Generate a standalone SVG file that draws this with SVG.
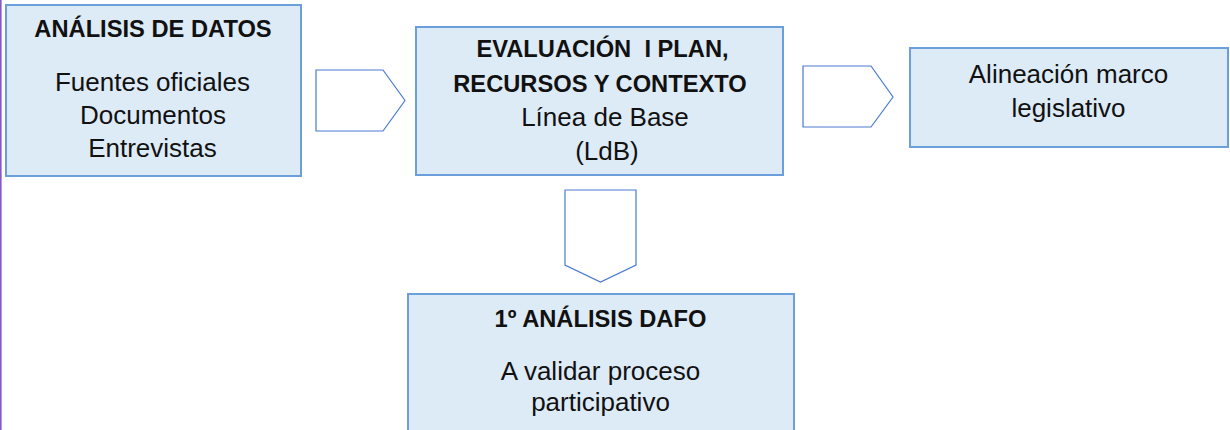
<svg xmlns="http://www.w3.org/2000/svg" width="1230" height="430" viewBox="0 0 1230 430">
<style>
.box{fill:#DDEBF7;stroke:#6A9FDB;stroke-width:2}
.arr{fill:#FFFFFF;stroke:#4A7BD0;stroke-width:1.2;stroke-linejoin:miter}
text{font-family:"Liberation Sans",Arial,sans-serif;fill:#111111;text-anchor:middle}
.b{font-weight:bold;font-size:23.7px}
.r{font-size:26px}
</style>
<rect x="0" y="0" width="1.6" height="430" fill="#8A55C8"/>
<g id="connectors">
<polygon class="arr" points="316,70 383,70 405,100.5 383,131 316,131"/>
<polygon class="arr" points="803,66 871,66 893,97 871,127 803,127"/>
<polygon class="arr" points="565,190 636,190 636,265 600.5,282 565,265"/>
</g>
<g id="node-analisis">
<rect class="box" x="6" y="5" width="295" height="171"/>
<text class="b" x="153" y="36.5">ANÁLISIS DE DATOS</text>
<text class="r" x="152.5" y="90.5">Fuentes oficiales</text>
<text class="r" x="153" y="123.5">Documentos</text>
<text class="r" x="152.5" y="156.5">Entrevistas</text>
</g>
<g id="node-evaluacion">
<rect class="box" x="416" y="27" width="367" height="148"/>
<text class="b" x="602.5" y="57" xml:space="preserve">EVALUACIÓN  I PLAN,</text>
<text class="b" x="600" y="91.5">RECURSOS Y CONTEXTO</text>
<text class="r" x="605" y="126">Línea de Base</text>
<text class="r" x="607" y="159.5">(LdB)</text>
</g>
<g id="node-alineacion">
<rect class="box" x="910" y="48" width="318" height="99"/>
<text class="r" x="1068.5" y="83">Alineación marco</text>
<text class="r" x="1068.5" y="117">legislativo</text>
</g>
<g id="node-dafo">
<rect class="box" x="408" y="294" width="386" height="150"/>
<text class="b" x="600.5" y="326.5">1º ANÁLISIS DAFO</text>
<text class="r" x="600.5" y="380">A validar proceso</text>
<text class="r" x="600.5" y="411">participativo</text>
</g>
</svg>
